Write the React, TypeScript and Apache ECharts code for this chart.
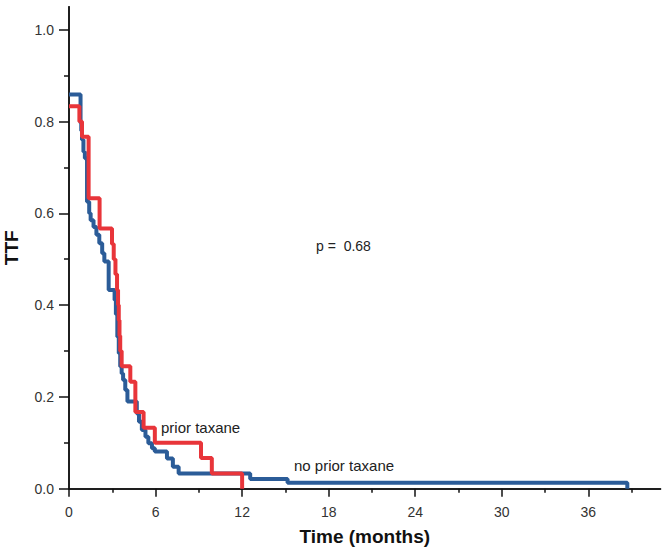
import React, { useEffect, useRef } from "react";
import * as echarts from "echarts";

// Kaplan-Meier step data: [time (months), TTF from that time on]
const noPriorTaxaneTimes = [0, 0.8, 0.85, 0.9, 1.0, 1.1, 1.25, 1.4, 1.5, 1.7, 1.9, 2.1, 2.3, 2.45, 2.75, 3.16, 3.25, 3.35, 3.45, 3.55, 3.65, 3.75, 3.9, 4.05, 4.7, 4.85, 5.05, 5.3, 5.5, 5.75, 5.95, 6.79, 7.2, 7.6, 12.56, 15.15, 38.7];
const noPriorTaxaneValues = [0.859, 0.797, 0.78, 0.76, 0.734, 0.72, 0.625, 0.6, 0.585, 0.57, 0.553, 0.535, 0.513, 0.495, 0.433, 0.411, 0.38, 0.331, 0.295, 0.266, 0.251, 0.237, 0.215, 0.19, 0.164, 0.146, 0.128, 0.113, 0.099, 0.088, 0.081, 0.066, 0.048, 0.033, 0.021, 0.013, 0.0];

const priorTaxaneTimes = [0, 0.72, 0.9, 1.36, 2.12, 2.98, 3.1, 3.22, 3.33, 3.4, 3.45, 3.5, 3.55, 3.65, 4.25, 4.6, 5.17, 5.95, 9.15, 9.9, 12.0];
const priorTaxaneValues = [0.833, 0.8, 0.767, 0.633, 0.567, 0.533, 0.5, 0.467, 0.433, 0.4, 0.367, 0.333, 0.3, 0.267, 0.233, 0.167, 0.133, 0.1, 0.067, 0.033, 0.0];

const xMajorTicks = [0, 6, 12, 18, 24, 30, 36];
const xMinorTicks = [3, 9, 15, 21, 27, 33, 39];
const yMajorTicks = [0, 0.2, 0.4, 0.6, 0.8, 1.0];
const yMinorTicks = [0.1, 0.3, 0.5, 0.7, 0.9];

const seriesNames = ["no prior taxane", "prior taxane"];
const pValueText = "p =  0.68";

const FONT = "Liberation Sans, Arial, sans-serif";

export default function App() {
  const ref = useRef<HTMLDivElement>(null);
  useEffect(() => {
    if (!ref.current) return;
    const chart = echarts.init(ref.current, null, { renderer: "svg" });
    const toPairs = (t: number[], v: number[]) => t.map((x, i) => [x, v[i]]);
    const axisLine = { show: true, lineStyle: { color: "#111", width: 1.5 } };
    const baseX = { type: "value", position: "bottom", min: 0, max: 41, interval: 3, axisLine, splitLine: { show: false }, gridIndex: 0 };
    const baseY = { type: "value", position: "left", min: 0, max: 1.05, interval: 0.1, axisLine, splitLine: { show: false }, gridIndex: 0 };
    chart.setOption({
      animation: false,
      backgroundColor: "#fff",
      grid: { left: 69, right: 2.5, top: 6.75, bottom: 64.3, containLabel: false, outerBoundsMode: "none" },
      xAxis: [
        {
          ...baseX,
          axisTick: { show: true, length: 4, customValues: xMinorTicks, lineStyle: { color: "#111", width: 1.5 } },
          axisLabel: { show: false },
        },
        {
          ...baseX,
          name: "Time (months)",
          nameLocation: "middle",
          nameGap: 38,
          nameTextStyle: { fontFamily: FONT, fontSize: 19, fontWeight: "bold", color: "#111" },
          axisTick: { show: true, length: 8, customValues: xMajorTicks, lineStyle: { color: "#111", width: 1.5 } },
          axisLabel: { show: true, customValues: xMajorTicks, margin: 16, fontFamily: FONT, fontSize: 14, color: "#333" },
        },
      ],
      yAxis: [
        {
          ...baseY,
          axisTick: { show: true, length: 5, customValues: yMinorTicks, lineStyle: { color: "#111", width: 1.5 } },
          axisLabel: { show: false },
        },
        {
          ...baseY,
          name: "TTF",
          nameLocation: "middle",
          nameGap: 48,
          nameRotate: 90,
          nameTextStyle: { fontFamily: FONT, fontSize: 19, fontWeight: "bold", color: "#111" },
          axisTick: { show: true, length: 10, customValues: yMajorTicks, lineStyle: { color: "#111", width: 1.5 } },
          axisLabel: {
            show: true,
            customValues: yMajorTicks,
            margin: 15,
            fontFamily: FONT,
            fontSize: 14,
            color: "#333",
            formatter: (v: number) => v.toFixed(1),
          },
        },
      ],
      series: [
        {
          name: seriesNames[0],
          type: "line",
          step: "end",
          xAxisIndex: 0,
          yAxisIndex: 0,
          showSymbol: false,
          symbol: "none",
          lineStyle: { color: "#2b5c98", width: 4 },
          data: toPairs(noPriorTaxaneTimes, noPriorTaxaneValues),
          z: 2,
        },
        {
          name: seriesNames[1],
          type: "line",
          step: "end",
          xAxisIndex: 0,
          yAxisIndex: 0,
          showSymbol: false,
          symbol: "none",
          lineStyle: { color: "#e8353a", width: 4 },
          data: toPairs(priorTaxaneTimes, priorTaxaneValues),
          z: 3,
        },
      ],
      graphic: [
        {
          type: "text",
          left: 316,
          top: 239,
          style: { text: pValueText, fontFamily: FONT, fontSize: 14, fill: "#222" },
        },
        {
          type: "text",
          left: 161,
          top: 420,
          style: { text: seriesNames[1], fontFamily: FONT, fontSize: 15, fill: "#222" },
        },
        {
          type: "text",
          left: 294,
          top: 458,
          style: { text: seriesNames[0], fontFamily: FONT, fontSize: 15, fill: "#222" },
        },
      ],
    });
    return () => chart.dispose();
  }, []);
  return <div ref={ref} style={{ position: "fixed", left: 0, top: 0, width: 663, height: 553 }} />;
}
